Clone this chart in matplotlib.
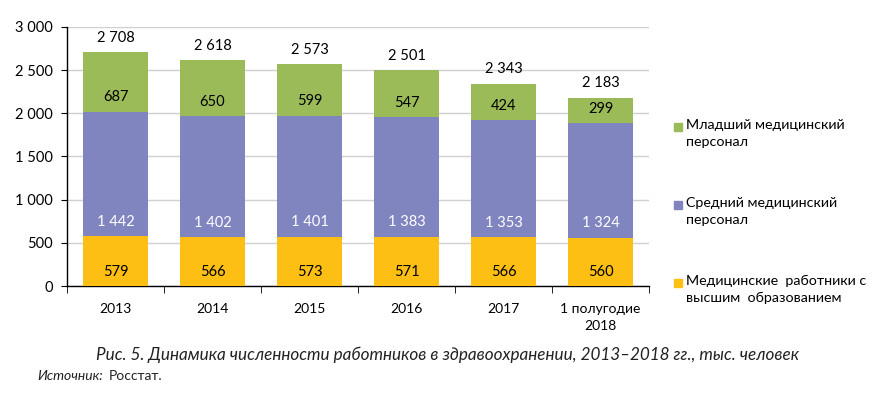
import matplotlib
matplotlib.use("Agg")
import matplotlib.pyplot as plt
import numpy as np

categories = ["2013", "2014", "2015", "2016", "2017", "1 полугодие\n2018"]
higher_ed = [579, 566, 573, 571, 566, 560]
middle = [1442, 1402, 1401, 1383, 1353, 1324]
junior = [687, 650, 599, 547, 424, 299]
totals = [2708, 2618, 2573, 2501, 2343, 2183]
series_names = ["Младший медицинский\nперсонал",
                "Средний медицинский\nперсонал",
                "Медицинские  работники с\nвысшим  образованием"]
caption = "Рис. 5. Динамика численности работников в здравоохранении, 2013–2018 гг., тыс. человек"
source_lbl = "Источник:"
source_txt = "Росстат."

c_yellow = "#FDBF13"
c_purple = "#8085C0"
c_green = "#9BBB59"

plt.rcParams['font.family'] = ['Lato', 'DejaVu Sans']

def fmt(v):
    return f"{v:,}".replace(",", " ")

fig = plt.figure(figsize=(8.86, 3.95), dpi=100)
ax = fig.add_axes([67/886, 1-286/395, (649-67)/886, (286-27)/395])

x = np.arange(len(categories))
w = 0.66
ax.bar(x, higher_ed, w, color=c_yellow, zorder=3)
ax.bar(x, middle, w, bottom=higher_ed, color=c_purple, zorder=3)
bottom3 = np.array(higher_ed) + np.array(middle)
ax.bar(x, junior, w, bottom=bottom3, color=c_green, zorder=3)

off = 165
for i in range(len(x)):
    ax.text(x[i], off, fmt(higher_ed[i]), ha="center", va="center",
            fontsize=10.5, color="black", zorder=4)
    ax.text(x[i], higher_ed[i] + off, fmt(middle[i]), ha="center", va="center",
            fontsize=10.5, color="white", zorder=4)
    ax.text(x[i], bottom3[i] + off, fmt(junior[i]), ha="center", va="center",
            fontsize=10.5, color="black", zorder=4)
    ax.text(x[i], totals[i] + off, fmt(totals[i]), ha="center", va="center",
            fontsize=10.5, color="black", zorder=4)

ax.set_xlim(-0.5, len(x) - 0.5)
ax.set_ylim(0, 3000)
ax.set_yticks(np.arange(0, 3001, 500))
ax.set_yticklabels([fmt(v) for v in range(0, 3001, 500)], fontsize=10.5)
ax.yaxis.grid(True, color="#D0D0D0", linewidth=1, zorder=0)
ax.set_axisbelow(True)
ax.set_xticks(x)
ax.set_xticklabels(categories, fontsize=10, linespacing=1.5)
ax.tick_params(axis="x", length=0, pad=12)
ax.set_xticks(np.arange(-0.5, len(x), 1), minor=True)
ax.tick_params(axis="x", which="minor", length=5, direction="out", color="black")
ax.tick_params(axis="y", length=4, direction="out", color="black", pad=6)
for s in ["top", "right"]:
    ax.spines[s].set_visible(False)
for s in ["left", "bottom"]:
    ax.spines[s].set_color("black")
    ax.spines[s].set_linewidth(1)

ys = [127, 205, 283]
for h, name, yy in zip([c_green, c_purple, c_yellow], series_names, ys):
    fig.patches.append(plt.Rectangle((674/886, 1-(yy+4)/395), 8/886, 8/395,
                                     transform=fig.transFigure, color=h))
    fig.text(686/886, 1-(yy-8)/395, name, fontsize=10.3, va="top", ha="left",
             linespacing=1.5)

fig.text(447/886, 1-355/395, caption, fontsize=12.3, style="italic", ha="center", va="center",
         color="#222222")
t1 = fig.text(37/886, 1-376/395, source_lbl, fontsize=10, style="italic", ha="left", va="center",
              color="#222222")
fig.canvas.draw()
bb = t1.get_window_extent(renderer=fig.canvas.get_renderer())
fig.text((bb.x1 + 6) / 886, 1-376/395, source_txt, fontsize=10, ha="left", va="center",
         color="#222222")

fig.savefig("out.png", dpi=100)
